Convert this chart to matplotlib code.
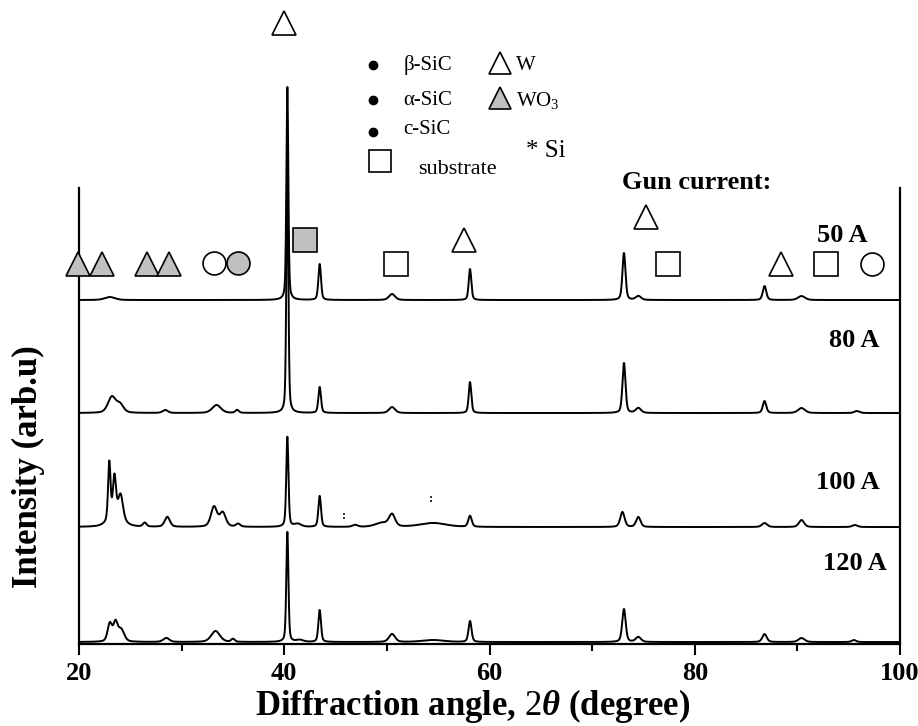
import numpy as np
import matplotlib.pyplot as plt

plt.rcParams['font.family'] = ['Liberation Serif', 'DejaVu Serif']
plt.rcParams['mathtext.fontset'] = 'custom'
plt.rcParams['mathtext.rm'] = 'Liberation Serif'
plt.rcParams['mathtext.it'] = 'Liberation Serif:italic:bold'
plt.rcParams['mathtext.bf'] = 'Liberation Serif:bold'

# 2theta grid
two_theta = np.arange(20, 100.001, 0.02)

# peaks: (2theta, height, fwhm), heights in pixel units
peaks_50A = [(23.0, 3, 1.2), (40.3, 213, 0.22), (43.45, 36, 0.3), (50.5, 6, 0.7),
             (58.1, 31, 0.3), (73.1, 47, 0.35), (74.5, 4, 0.6), (86.8, 14, 0.4),
             (90.4, 4, 0.8)]
peaks_80A = [(23.2, 16, 0.9), (24.0, 8, 0.8), (28.4, 3, 0.6), (33.4, 8, 1.0),
             (35.4, 3, 0.4), (40.3, 263, 0.22), (43.45, 26, 0.3), (50.5, 6, 0.7),
             (58.1, 31, 0.3), (73.1, 50, 0.35), (74.5, 5, 0.6), (86.8, 12, 0.4),
             (90.4, 5, 0.8), (95.8, 2, 0.6)]
peaks_100A = [(22.95, 58, 0.28), (23.45, 40, 0.35), (24.05, 24, 0.55), (23.6, 10, 1.6),
              (26.4, 4, 0.4), (28.6, 10, 0.6), (33.15, 20, 0.7), (34.0, 14, 0.7),
              (35.5, 3, 0.5), (40.3, 90, 0.25), (41.3, 3, 0.8), (43.45, 31, 0.3),
              (46.9, 2, 0.6), (50.5, 12, 0.7), (49.5, 4, 1.5), (54.5, 4, 3.0),
              (58.1, 11, 0.4), (72.95, 15, 0.5), (74.5, 10, 0.5), (86.8, 4, 0.6),
              (90.4, 7, 0.6), (95.6, 2, 0.6)]
peaks_120A = [(23.0, 18, 0.5), (23.55, 18, 0.5), (24.1, 12, 0.7), (28.5, 4, 0.7),
              (33.3, 11, 1.0), (35.0, 3, 0.4), (40.3, 110, 0.24), (41.5, 2, 0.8),
              (43.45, 32, 0.3), (50.5, 8, 0.7), (54.5, 2, 2.5), (58.1, 21, 0.35),
              (73.1, 33, 0.4), (74.5, 5, 0.6), (86.8, 8, 0.5), (90.4, 4, 0.7),
              (95.5, 2, 0.5)]

currents = ['50 A', '80 A', '100 A', '120 A']
baselines = [344, 231, 117, 2]
all_peaks = [peaks_50A, peaks_80A, peaks_100A, peaks_120A]

# phase markers above the 50 A pattern: (2theta, height)
wo3_tri = [(19.9, 380), (22.2, 380), (26.6, 380), (28.8, 380)]
open_circle = [(33.2, 381), (97.3, 380)]
grey_circle = [(35.5, 381)]
grey_square = [(42.0, 404)]
open_square = [(50.9, 380), (77.4, 380), (92.8, 380)]
w_tri = [(40.0, 621), (57.5, 404), (75.2, 427), (88.4, 380)]


def profile(peaks):
    y = np.zeros_like(two_theta)
    for pos, h, w in peaks:
        g = np.exp(-4 * np.log(2) * ((two_theta - pos) / w) ** 2)
        l = 1 / (1 + 4 * ((two_theta - pos) / w) ** 2)
        y += h * (0.6 * g + 0.4 * l)
    return y


fig = plt.figure(figsize=(9.18, 7.26), dpi=100)
ax = fig.add_axes([0.0861, 0.1129, 0.8943, 0.6281])

for pk, base in zip(all_peaks, baselines):
    ax.plot(two_theta, base + profile(pk), color='black', lw=1.4, clip_on=False, zorder=3)

mk = dict(linestyle='none', markeredgecolor='black', markeredgewidth=1.2,
          clip_on=False, zorder=4)
grey = '#c0c0c0'
ax.plot(*zip(*wo3_tri), marker='^', ms=17, markerfacecolor=grey, **mk)
ax.plot(*zip(*w_tri), marker='^', ms=17, markerfacecolor='white', **mk)
ax.plot(*zip(*open_circle), marker='o', ms=16.5, markerfacecolor='white', **mk)
ax.plot(*zip(*grey_circle), marker='o', ms=16.5, markerfacecolor=grey, **mk)
ax.plot(*zip(*grey_square), marker='s', ms=17, markerfacecolor=grey, **mk)
ax.plot(*zip(*open_square), marker='s', ms=17, markerfacecolor='white', **mk)

# legend block
ax.plot([48.65, 48.65, 48.65], [579, 544, 512], 'ko', ms=6, clip_on=False)
ax.text(51.6, 579, r'β-SiC', fontsize=15, va='center')
ax.text(51.6, 544, r'α-SiC', fontsize=15, va='center')
ax.text(51.6, 515, r'c-SiC', fontsize=15, va='center')
ax.plot([49.3], [483], marker='s', ms=16, markerfacecolor='white', **mk)
ax.text(53.0, 475, 'substrate', fontsize=16, va='center')
ax.plot([61.0], [581], marker='^', ms=16, markerfacecolor='white', **mk)
ax.plot([61.0], [546], marker='^', ms=16, markerfacecolor=grey, **mk)
ax.text(62.6, 579, 'W', fontsize=15, va='center')
ax.text(62.6, 544, r'WO$_3$', fontsize=15, va='center')
ax.text(63.6, 493, '* Si', fontsize=18, va='center')

ax.text(80.2, 462, 'Gun current:', fontsize=19, fontweight='bold', ha='center', va='center')
label_x = [96.8, 98.05, 98.05, 98.7]
label_y = [409, 304, 162, 81]
for txt, lx, ly in zip(currents, label_x, label_y):
    ax.text(lx, ly, txt, fontsize=19, fontweight='bold', ha='right', va='center')

ax.text(45.8, 128, ':', fontsize=9, fontweight='bold', ha='center', va='center')
ax.text(54.3, 145, ':', fontsize=9, fontweight='bold', ha='center', va='center')

ax.set_xlim(20, 100)
ax.set_ylim(0, 456)
ax.set_xticks([20, 40, 60, 80, 100])
ax.set_xticks([30, 50, 70, 90], minor=True)
ax.tick_params(axis='x', which='major', direction='out', length=8, width=1.5,
               labelsize=19, pad=5)
ax.tick_params(axis='x', which='minor', direction='out', length=5, width=1.5)
for lab in ax.get_xticklabels():
    lab.set_fontweight('bold')
ax.set_yticks([])
ax.spines['top'].set_visible(False)
for s in ['left', 'right', 'bottom']:
    ax.spines[s].set_linewidth(1.6)

ax.set_xlabel(r'Diffraction angle, $\mathit{2\theta}$ (degree)', fontsize=25,
              fontweight='bold', labelpad=2)
ax.xaxis.set_label_coords(0.479, -0.095)
ax.set_ylabel('Intensity (arb.u)', fontsize=25, fontweight='bold')
ax.yaxis.set_label_coords(-0.041, 0.39)

fig.savefig('out.png', dpi=100)
